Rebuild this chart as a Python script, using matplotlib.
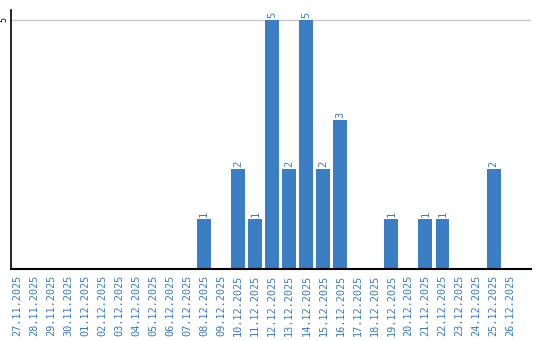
import matplotlib
matplotlib.use("Agg")
import matplotlib.pyplot as plt
import numpy as np

DATES = [
	"27.11.2025", "28.11.2025", "29.11.2025", "30.11.2025", "01.12.2025",
	"02.12.2025", "03.12.2025", "04.12.2025", "05.12.2025", "06.12.2025",
	"07.12.2025", "08.12.2025", "09.12.2025", "10.12.2025", "11.12.2025",
	"12.12.2025", "13.12.2025", "14.12.2025", "15.12.2025", "16.12.2025",
	"17.12.2025", "18.12.2025", "19.12.2025", "20.12.2025", "21.12.2025",
	"22.12.2025", "23.12.2025", "24.12.2025", "25.12.2025", "26.12.2025",
]
COUNTS = [0, 0, 0, 0, 0, 0, 0, 0, 0, 0, 0, 1, 0, 2, 1, 5, 2, 5, 2, 3, 0, 0, 1, 0, 1, 1, 0, 0, 2, 0]

BAR_COLOR = "#3b7ec3"
TEXT_BLUE = "#3a7bbf"

fig = plt.figure(figsize=(5.4, 3.4), dpi=100)
ax = fig.add_axes([11 / 540, 1 - 269 / 340, 520 / 540, 259 / 340])

x = np.arange(len(DATES))
ax.bar(x, COUNTS, width=0.82, color=BAR_COLOR, zorder=2)
for xi, val in zip(x, COUNTS):
	if val > 0:
		ax.text(xi, val + 0.04, str(val), rotation=90, ha="center", va="bottom",
			color=TEXT_BLUE, fontsize=7.5, family="DejaVu Sans Mono")

ax.set_xlim(-0.35, 30.2)
ax.set_ylim(0, 5.2)
ax.axhline(5, color="#c8c8c8", linewidth=1.0, zorder=1)

ax.set_xticks(x)
ax.set_xticklabels(DATES, rotation=90, color=TEXT_BLUE, fontsize=7.4, family="DejaVu Sans Mono")
ax.set_yticks([5])
ax.set_yticklabels(["5"], rotation=90, va="center", fontsize=6, family="DejaVu Sans Mono")
ax.tick_params(axis="x", length=0, pad=4.5)
ax.tick_params(axis="y", length=0, pad=2)

for side in ["top", "right"]:
	ax.spines[side].set_visible(False)
ax.spines["left"].set_linewidth(1.2)
ax.spines["bottom"].set_linewidth(1.5)

fig.savefig("out.png", dpi=100)
